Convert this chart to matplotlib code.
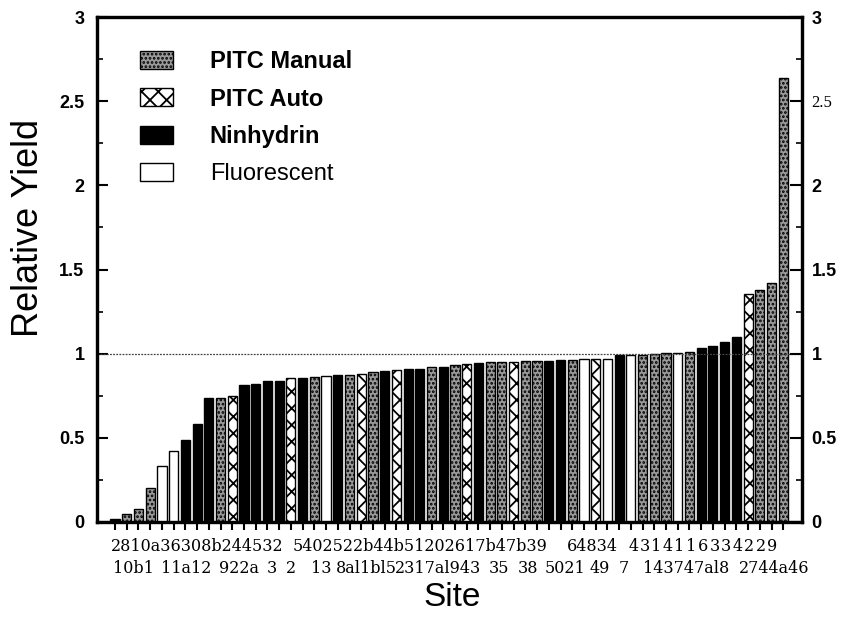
import matplotlib
matplotlib.use('Agg')
import matplotlib.pyplot as plt
from matplotlib.patches import Patch
from matplotlib.transforms import blended_transform_factory
import numpy as np

# ---- data ----
methods = ['N', 'M', 'M', 'M', 'F', 'F', 'N', 'N', 'N', 'M',
           'A', 'N', 'N', 'N', 'N', 'A', 'N', 'M', 'F', 'N',
           'M', 'A', 'M', 'N', 'A', 'N', 'N', 'M', 'N', 'M',
           'A', 'N', 'M', 'M', 'A', 'M', 'M', 'N', 'N', 'M',
           'F', 'A', 'F', 'N', 'F', 'M', 'M', 'M', 'F', 'M',
           'N', 'N', 'N', 'N', 'A', 'M', 'M', 'M']
yields = [0.016, 0.049, 0.079, 0.20, 0.335, 0.42, 0.49, 0.58, 0.735, 0.738,
          0.747, 0.814, 0.818, 0.838, 0.838, 0.855, 0.855, 0.86, 0.865, 0.876,
          0.876, 0.882, 0.892, 0.898, 0.902, 0.906, 0.906, 0.92, 0.922, 0.935,
          0.938, 0.945, 0.949, 0.951, 0.951, 0.959, 0.959, 0.959, 0.965, 0.965,
          0.968, 0.968, 0.968, 0.99, 0.99, 0.99, 1.0, 1.002, 1.002, 1.012,
          1.035, 1.047, 1.07, 1.10, 1.355, 1.378, 1.418, 2.64]
legend_labels = {'M': 'PITC Manual', 'A': 'PITC Auto', 'N': 'Ninhydrin', 'F': 'Fluorescent'}
ytick_values = [0, 0.5, 1, 1.5, 2, 2.5, 3]
ytick_labels = ['0', '0.5', '1', '1.5', '2', '2.5', '3']

# site label rows (text, centre position in site index units)
top_row = [("2810a36308b244532", 7.0), ("5402522b44b51202617b47b39", 26.0),
           ("64834", 40.7)]
top_row_spaced = "4314116334229"
top_row_spaced_start = 44.2
bottom_row = [("10b1", 1.58), ("11a12", 6.06), ("922a", 10.58), ("3", 13.35),
              ("2", 14.97), ("13", 17.62), ("8al1bl5", 21.42), ("2317al943", 27.56),
              ("35", 32.72), ("38", 35.2), ("5021", 38.4), ("49", 41.38),
              ("7", 43.4), ("143747al8", 48.68), ("2744a46", 56.27)]

# ---- style ----
styles = {
    'M': dict(facecolor='#9a9a9a', hatch='....'),
    'A': dict(facecolor='white', hatch='xx'),
    'N': dict(facecolor='black', hatch=None),
    'F': dict(facecolor='white', hatch=None),
}
plt.rcParams['hatch.linewidth'] = 1.3
plt.rcParams['hatch.color'] = 'black'
sans = ['Liberation Sans', 'DejaVu Sans']
serif = ['DejaVu Serif']

fig = plt.figure(figsize=(8.44, 6.17), dpi=100)
ax = fig.add_axes([97 / 844, 1 - 522 / 617, (802 - 97) / 844, (522 - 17) / 617])

x = np.arange(len(yields))
for xi, yi, m in zip(x, yields, methods):
    st = styles[m]
    ax.bar(xi, yi, width=0.78, facecolor=st['facecolor'], hatch=st['hatch'],
           edgecolor='black', linewidth=1.0, zorder=2)

ax.axhline(1.0, color='#444444', linewidth=0.9, linestyle=(0, (1.5, 1)), zorder=3)

ax.set_xlim(-1.54, 58.6)
ax.set_ylim(0, 3)

for s in ax.spines.values():
    s.set_linewidth(2.3)

ax.set_xticks(x)
ax.set_xticklabels([])
ax.tick_params(axis='x', direction='out', length=6, width=1.5)
ax.set_yticks(ytick_values)
ax.set_yticklabels(ytick_labels, fontfamily=sans, fontweight='bold', fontsize=13)
ax.set_yticks(np.arange(0.25, 3, 0.5), minor=True)
ax.tick_params(axis='y', which='major', direction='in', length=8, width=1.5, pad=9)
ax.tick_params(axis='y', which='minor', direction='in', length=4, width=1.2)

ax2 = ax.twinx()
ax2.set_ylim(0, 3)
ax2.set_yticks(ytick_values)
ax2.set_yticklabels(ytick_labels, fontfamily=sans, fontweight='bold', fontsize=13)
ax2.set_yticks(np.arange(0.25, 3, 0.5), minor=True)
ax2.tick_params(axis='y', which='major', direction='in', length=9, width=1.5, pad=7)
ax2.tick_params(axis='y', which='minor', direction='in', length=4, width=1.2)
for lab in ax2.get_yticklabels():
    if lab.get_text() == '2.5':
        lab.set_fontfamily(['Liberation Serif'])
        lab.set_fontweight('normal')
        lab.set_fontsize(12)
for s in ax2.spines.values():
    s.set_linewidth(2.3)

# site labels
tr = blended_transform_factory(ax.transData, ax.transAxes)
for txt, pos in top_row:
    ax.text(pos, -0.048, txt, transform=tr, ha='center', va='center',
            fontfamily=serif, fontsize=11.5, clip_on=False)
for k, ch in enumerate(top_row_spaced):
    ax.text(top_row_spaced_start + k * 0.99, -0.048, ch, transform=tr, ha='center',
            va='center', fontfamily=serif, fontsize=11.5, clip_on=False)
for txt, pos in bottom_row:
    ax.text(pos, -0.093, txt, transform=tr, ha='center', va='center',
            fontfamily=serif, fontsize=11.5, clip_on=False)

fig.text(452 / 844, 1 - 597 / 617, 'Site', ha='center', va='center',
         fontfamily=sans, fontsize=24)
fig.text(28 / 844, 1 - 228 / 617, 'Relative Yield', ha='center', va='center',
         rotation=90, fontfamily=sans, fontsize=26)

# legend
order = ['M', 'A', 'N', 'F']
handles = [Patch(facecolor=styles[k]['facecolor'], hatch=styles[k]['hatch'],
                 edgecolor='black', linewidth=1.0) for k in order]
leg = ax.legend(handles, [legend_labels[k] for k in order], loc='upper left',
                bbox_to_anchor=(140 / 844, 1 - 50 / 617), bbox_transform=fig.transFigure,
                frameon=False, borderpad=0, borderaxespad=0, handlelength=1.4,
                handleheight=0.8, handletextpad=1.55, labelspacing=0.62,
                prop={'family': sans, 'size': 17})
for t, k in zip(leg.get_texts(), order):
    if k != 'F':
        t.set_fontweight('bold')

fig.savefig('out.png', dpi=100)
